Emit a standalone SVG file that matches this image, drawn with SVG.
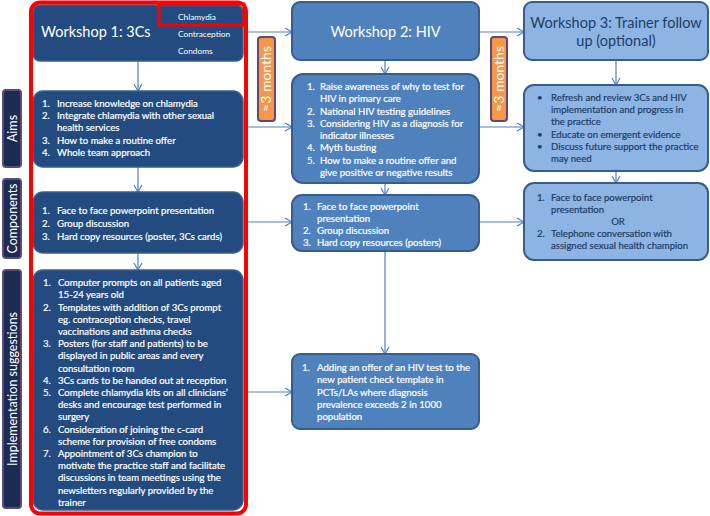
<svg xmlns="http://www.w3.org/2000/svg" width="710" height="516" viewBox="0 0 710 516">
<defs>
<marker id="ah" markerWidth="10" markerHeight="10" refX="8" refY="5" orient="auto" markerUnits="userSpaceOnUse">
<path d="M1,1 L8,5 L1,9" fill="none" stroke="#4f81bd" stroke-width="1.2"/>
</marker>
<style>
text{font-family:Lato,"Liberation Sans",sans-serif;}
.dk{fill:#234b80;stroke:#3a5f8f;stroke-width:1.5;}
.md{fill:#4f81bd;stroke:#385d8a;stroke-width:2;}
.lt{fill:#8db4e2;stroke:#385d8a;stroke-width:2;}
.side{fill:#1c2b52;stroke:#5f497a;stroke-width:2;}
.org{fill:#f79646;stroke:#5f497a;stroke-width:2;}
.w{fill:#ffffff;font-size:9.6px;stroke:#ffffff;stroke-width:0.2;}
.d{fill:#1f3d66;font-size:9.6px;stroke:#1f3d66;stroke-width:0.2;}
.t{font-size:14.5px;}
.sl{fill:#ffffff;font-size:12.5px;}
.cn{fill:none;stroke:#4f81bd;stroke-width:1.2;marker-end:url(#ah);}
</style>
</defs>
<rect width="710" height="516" fill="#ffffff"/>

<g id="side-aims">
<rect class="side" x="3" y="90" width="18" height="77" rx="3"/>
<text class="sl" transform="translate(16.5,128.5) rotate(-90)" text-anchor="middle">Aims</text>
</g>
<g id="side-components">
<rect class="side" x="3" y="179" width="18" height="79" rx="3"/>
<text class="sl" transform="translate(16.5,218.5) rotate(-90)" text-anchor="middle">Components</text>
</g>
<g id="side-implementation">
<rect class="side" x="3" y="270" width="18" height="238" rx="3"/>
<text class="sl" transform="translate(16.5,389) rotate(-90)" text-anchor="middle">Implementation suggestions</text>
</g>

<g id="connectors">
<line class="cn" x1="138" y1="61" x2="138" y2="91"/>
<line class="cn" x1="138" y1="167" x2="138" y2="192"/>
<line class="cn" x1="138" y1="253" x2="138" y2="270"/>
<line class="cn" x1="247" y1="32" x2="292" y2="32"/>
<line class="cn" x1="247" y1="127" x2="292" y2="127"/>
<line class="cn" x1="247" y1="222" x2="292" y2="222"/>
<line class="cn" x1="247" y1="392" x2="292" y2="392"/>
<line class="cn" x1="385" y1="61" x2="385" y2="74"/>
<line class="cn" x1="385" y1="183" x2="385" y2="195"/>
<line class="cn" x1="385" y1="251" x2="385" y2="354"/>
<line class="cn" x1="479" y1="32" x2="524" y2="32"/>
<line class="cn" x1="479" y1="127" x2="524" y2="127"/>
<line class="cn" x1="479" y1="222" x2="524" y2="222"/>
<line class="cn" x1="616" y1="60" x2="616" y2="85"/>
<line class="cn" x1="616" y1="171" x2="616" y2="183"/>
</g>

<g id="workshop1">
<rect class="dk" x="33" y="5" width="210" height="56" rx="7"/>
<text class="t" x="41" y="37" fill="#ffffff">Workshop 1: 3Cs</text>
<rect x="159" y="4" width="85" height="21" fill="none" stroke="#ff0000" stroke-width="3"/>
<text x="178" y="20" fill="#ffffff" font-size="8.3px">Chlamydia</text>
<text x="178" y="37" fill="#ffffff" font-size="8.3px">Contraception</text>
<text x="178" y="54" fill="#ffffff" font-size="8.3px">Condoms</text>
</g>

<g id="aims1">
<rect class="dk" x="33" y="91" width="210" height="76" rx="10"/>
<text class="w" x="42" y="107">1.</text><text class="w" x="57" y="107">Increase knowledge on chlamydia</text>
<text class="w" x="42" y="119">2.</text><text class="w" x="57" y="119">Integrate chlamydia with other sexual</text>
<text class="w" x="57" y="131">health services</text>
<text class="w" x="42" y="144">3.</text><text class="w" x="57" y="144">How to make a routine offer</text>
<text class="w" x="42" y="156">4.</text><text class="w" x="57" y="156">Whole team approach</text>
</g>

<g id="components1">
<rect class="dk" x="33" y="192" width="210" height="61" rx="10"/>
<text class="w" x="42" y="214">1.</text><text class="w" x="57" y="214">Face to face powerpoint presentation</text>
<text class="w" x="42" y="227">2.</text><text class="w" x="57" y="227">Group discussion</text>
<text class="w" x="42" y="240">3.</text><text class="w" x="57" y="240">Hard copy resources (poster, 3Cs cards)</text>
</g>

<g id="implementation1">
<rect class="dk" x="33" y="270" width="210" height="240" rx="10"/>
<text class="w" x="43" y="286">1.</text><text class="w" x="58" y="286">Computer prompts on all patients aged</text>
<text class="w" x="58" y="298">15-24 years old</text>
<text class="w" x="43" y="311">2.</text><text class="w" x="58" y="311">Templates with addition of 3Cs prompt</text>
<text class="w" x="58" y="323">eg. contraception checks, travel</text>
<text class="w" x="58" y="335">vaccinations and asthma checks</text>
<text class="w" x="43" y="347">3.</text><text class="w" x="58" y="347">Posters (for staff and patients) to be</text>
<text class="w" x="58" y="359">displayed in public areas and every</text>
<text class="w" x="58" y="372">consultation room</text>
<text class="w" x="43" y="384">4.</text><text class="w" x="58" y="384">3Cs cards to be handed out at reception</text>
<text class="w" x="43" y="396">5.</text><text class="w" x="58" y="396">Complete chlamydia kits on all clinicians’</text>
<text class="w" x="58" y="408">desks and encourage test performed in</text>
<text class="w" x="58" y="420">surgery</text>
<text class="w" x="43" y="433">6.</text><text class="w" x="58" y="433">Consideration of joining the c-card</text>
<text class="w" x="58" y="445">scheme for provision of free condoms</text>
<text class="w" x="43" y="457">7.</text><text class="w" x="58" y="457">Appointment of 3Cs champion to</text>
<text class="w" x="58" y="469">motivate the practice staff and facilitate</text>
<text class="w" x="58" y="481">discussions in team meetings using the</text>
<text class="w" x="58" y="494">newsletters regularly provided by the</text>
<text class="w" x="58" y="506">trainer</text>
</g>

<rect id="workshop1-frame" x="31" y="2.5" width="215" height="511" rx="9" fill="none" stroke="#ff0000" stroke-width="4"/>

<g id="workshop2">
<rect class="md" x="292" y="2" width="187" height="58" rx="8"/>
<text class="t" x="385.5" y="37" fill="#ffffff" text-anchor="middle">Workshop 2: HIV</text>
</g>

<g id="aims2">
<rect class="md" x="292" y="74" width="187" height="109" rx="11"/>
<text class="w" x="307" y="90">1.</text><text class="w" x="320" y="90">Raise awareness of why to test for</text>
<text class="w" x="320" y="102">HIV in primary care</text>
<text class="w" x="307" y="115">2.</text><text class="w" x="320" y="115">National HIV testing guidelines</text>
<text class="w" x="307" y="127">3.</text><text class="w" x="320" y="127">Considering HIV as a diagnosis for</text>
<text class="w" x="320" y="139">indicator illnesses</text>
<text class="w" x="307" y="151">4.</text><text class="w" x="320" y="151">Myth busting</text>
<text class="w" x="307" y="164">5.</text><text class="w" x="320" y="164">How to make a routine offer and</text>
<text class="w" x="320" y="176">give positive or negative results</text>
</g>

<g id="components2">
<rect class="md" x="292" y="195" width="187" height="56" rx="10"/>
<text class="w" x="303" y="210">1.</text><text class="w" x="317" y="210">Face to face powerpoint</text>
<text class="w" x="317" y="222">presentation</text>
<text class="w" x="303" y="234">2.</text><text class="w" x="317" y="234">Group discussion</text>
<text class="w" x="303" y="246">3.</text><text class="w" x="317" y="246">Hard copy resources (posters)</text>
</g>

<g id="implementation2">
<rect class="md" x="292" y="354" width="187" height="75" rx="8"/>
<text class="w" x="302" y="371">1.</text><text class="w" x="317" y="371">Adding an offer  of an HIV test to the</text>
<text class="w" x="317" y="383">new patient check template in</text>
<text class="w" x="317" y="396">PCTs/LAs where diagnosis</text>
<text class="w" x="317" y="408">prevalence exceeds 2 in 1000</text>
<text class="w" x="317" y="420">population</text>
</g>

<g id="workshop3">
<rect class="lt" x="524" y="2" width="184" height="58" rx="8"/>
<text class="t" x="616" y="28" fill="#1f3d66" text-anchor="middle">Workshop 3: Trainer follow</text>
<text class="t" x="616" y="46" fill="#1f3d66" text-anchor="middle">up (optional)</text>
</g>

<g id="aims3">
<rect class="lt" x="524" y="85" width="184" height="86" rx="10"/>
<text class="d" x="537" y="101">•</text><text class="d" x="551" y="101">Refresh and review 3Cs and HIV</text>
<text class="d" x="551" y="113">implementation and progress in</text>
<text class="d" x="551" y="125">the practice</text>
<text class="d" x="537" y="138">•</text><text class="d" x="551" y="138">Educate on emergent evidence</text>
<text class="d" x="537" y="150">•</text><text class="d" x="551" y="150">Discuss future support the practice</text>
<text class="d" x="551" y="162">may need</text>
</g>

<g id="components3">
<rect class="lt" x="524" y="183" width="184" height="77" rx="10"/>
<text class="d" x="537" y="201">1.</text><text class="d" x="551" y="201">Face to face powerpoint</text>
<text class="d" x="551" y="213">presentation</text>
<text class="d" x="618" y="225" text-anchor="middle">OR</text>
<text class="d" x="537" y="237">2.</text><text class="d" x="551" y="237">Telephone conversation with</text>
<text class="d" x="551" y="249">assigned sexual health champion</text>
</g>

<g id="interval1">
<rect class="org" x="258" y="37" width="17" height="84" rx="3"/>
<text transform="translate(271,79) rotate(-90)" text-anchor="middle" fill="#ffffff" font-size="14px">≈3 months</text>
</g>
<g id="interval2">
<rect class="org" x="491" y="37" width="16" height="84" rx="3"/>
<text transform="translate(504,79) rotate(-90)" text-anchor="middle" fill="#ffffff" font-size="14px">≈3 months</text>
</g>
</svg>
